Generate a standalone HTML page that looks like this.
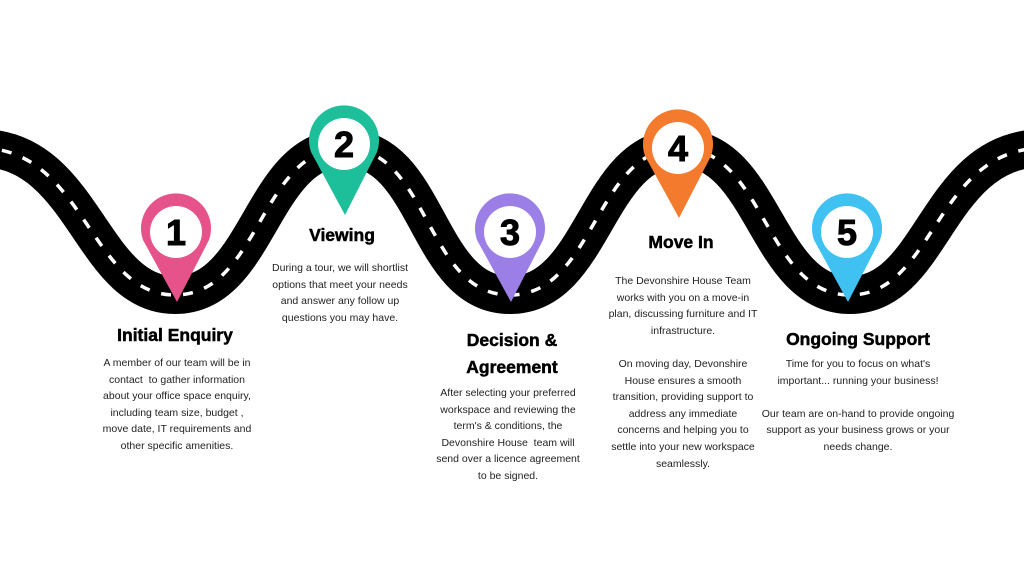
<!DOCTYPE html>
<html><head><meta charset="utf-8"><style>
body{margin:0;width:1024px;height:576px;background:#fff;position:relative;overflow:hidden;font-family:"Liberation Sans",sans-serif;}
.t{position:absolute;transform:translateX(-50%);font-weight:bold;font-size:17.5px;color:#000;white-space:nowrap;line-height:27px;text-align:center;-webkit-text-stroke:0.5px #000}
.b{position:absolute;transform:translateX(-50%);font-size:10.5px;color:#222;line-height:16.6px;text-align:center;white-space:nowrap}
</style></head><body>
<svg width="1024" height="576" style="position:absolute;left:0;top:0">
<path d="M -20 148 C 85 148, 90 295, 175 295 S 260 148, 345 148 S 425 295 510 295 S 595 148 680 148 S 765 295 850 295 S 935 148 1044 148" fill="none" stroke="#000" stroke-width="38"/>
<path d="M -20 148 C 85 148, 90 295, 175 295 S 260 148, 345 148 S 425 295 510 295 S 595 148 680 148 S 765 295 850 295 S 935 148 1044 148" fill="none" stroke="#fff" stroke-width="3.5" stroke-dasharray="10 12"/>
<g font-family="Liberation Sans" font-weight="bold" font-size="36" text-anchor="middle" stroke="#000" stroke-width="1">
<g transform="translate(176,232)"><path d="M -33 8 A 35 35 0 1 1 33 8 L 1 70 Z" fill="#e6538a" stroke="none"/><circle r="26" fill="#fff" stroke="none"/><text y="13">1</text></g>
<g transform="translate(344,144)"><path d="M -33 8 A 35 35 0 1 1 33 8 L 1 71 Z" fill="#1dbf9a" stroke="none"/><circle r="26" fill="#fff" stroke="none"/><text y="13">2</text></g>
<g transform="translate(510,232)"><path d="M -33 8 A 35 35 0 1 1 33 8 L 1 70 Z" fill="#9b7ee6" stroke="none"/><circle r="26" fill="#fff" stroke="none"/><text y="13">3</text></g>
<g transform="translate(678,148)"><path d="M -33 8 A 35 35 0 1 1 33 8 L 1 70 Z" fill="#f47b2e" stroke="none"/><circle r="26" fill="#fff" stroke="none"/><text y="13">4</text></g>
<g transform="translate(847,232)"><path d="M -33 8 A 35 35 0 1 1 33 8 L 1 70 Z" fill="#3fc1f2" stroke="none"/><circle r="26" fill="#fff" stroke="none"/><text y="13">5</text></g>
</g>
</svg>
<div class="t" style="left:175px;top:322px">Initial Enquiry</div>
<div class="b" style="left:177px;top:355px">A member of our team will be in<br>contact &nbsp;to gather information<br>about your office space enquiry,<br>including team size, budget ,<br>move date, IT requirements and<br>other specific amenities.</div>
<div class="t" style="left:342px;top:222px">Viewing</div>
<div class="b" style="left:340px;top:260px">During a tour, we will shortlist<br>options that meet your needs<br>and answer any follow up<br>questions you may have.</div>
<div class="t" style="left:512px;top:327px">Decision &amp;<br>Agreement</div>
<div class="b" style="left:508px;top:385px">After selecting your preferred<br>workspace and reviewing the<br>term's &amp; conditions, the<br>Devonshire House &nbsp;team will<br>send over a licence agreement<br>to be signed.</div>
<div class="t" style="left:681px;top:229px">Move In</div>
<div class="b" style="left:683px;top:273px">The Devonshire House Team<br>works with you on a move-in<br>plan, discussing furniture and IT<br>infrastructure.<br><br>On moving day, Devonshire<br>House ensures a smooth<br>transition, providing support to<br>address any immediate<br>concerns and helping you to<br>settle into your new workspace<br>seamlessly.</div>
<div class="t" style="left:858px;top:326px">Ongoing Support</div>
<div class="b" style="left:858px;top:356px">Time for you to focus on what's<br>important... running your business!<br><br>Our team are on-hand to provide ongoing<br>support as your business grows or your<br>needs change.</div>
</body></html>
